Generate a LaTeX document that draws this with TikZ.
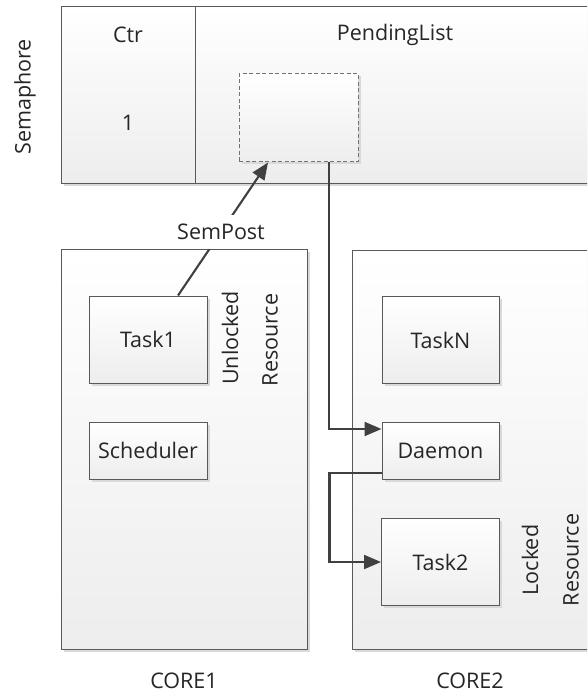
\documentclass[tikz,border=0pt]{standalone}
\usepackage{fontspec}
\setmainfont{Open Sans}
\usetikzlibrary{positioning,calc,shadows,arrows.meta}

\tikzset{
  every node/.style={text=black!85, font=\fontsize{21.5}{25}\selectfont},
  corebox/.style={draw=black!65, line width=1pt, inner sep=0pt,
    top color=white, bottom color=black!7,
    drop shadow={shadow xshift=2.5pt, shadow yshift=-2.5pt, fill=black!15, opacity=1}},
  taskbox/.style={corebox, minimum width=118pt, minimum height=87pt},
  listbox/.style={corebox, draw=black!55, dash pattern=on 4pt off 2.5pt},
  link/.style={draw=black!75, line width=2.1pt, -{Triangle[length=17pt,width=14pt]}},
}

\begin{document}
\begin{tikzpicture}[x=1pt,y=-1pt]
\clip (0,0) rectangle (587,700);

\node[corebox, minimum width=579pt, minimum height=177pt] (sem) at (350.5,95.5) {};
\coordinate (div) at (195,0);
\draw[draw=black!65, line width=1pt] (sem.north -| div) -- (sem.south -| div);

\node[rotate=90] (semlbl) at (25,97) {Semaphore};
\node (ctr) at (128,35) {Ctr};
\node (cnt) at (128,123) {1};
\node (pending) at (395,35) {PendingList};
\node[listbox, minimum width=119pt, minimum height=88pt] (plist) at (298.5,118) {};

\node[corebox, minimum width=246pt, minimum height=399pt] (core1) at (184,449.5) {};
\node[corebox, minimum width=288pt, minimum height=398pt] (core2) at (496,450) {};

\node[taskbox] (task1) at (148,339.5) {Task1};
\node[taskbox, minimum height=57pt, below=38pt of task1] (sched) {Scheduler};
\node[rotate=90] (unlk) at (230,338) {Unlocked};
\node[rotate=90] (res1) at (270,340) {Resource};

\node[taskbox, minimum width=117pt] (taskN) at (440.5,340) {TaskN};
\node[taskbox, minimum width=117pt, minimum height=57pt, below=38pt of taskN] (daemon) {Daemon};
\node[taskbox, below=38pt of daemon] (task2) {Task2};
\node[rotate=90] (lk) at (530,560) {Locked};
\node[rotate=90] (res2) at (571,560) {Resource};

\node (c1lbl) at (184,681) {CORE1};
\node (c2lbl) at (470,681) {CORE2};

\coordinate (t1) at ($(task1.north)+(30,0)$);
\coordinate (pl) at ($(plist.south)+(-30.5,0)$);
\draw[link] (t1) -- node[pos=0.478, fill=white, inner ysep=9pt] (sempost) {SemPost} (pl);

\draw[link] ($(plist.south)+(30.5,0)$) |- ($(daemon.north west)+(0,7)$);
\draw[link] ($(daemon.south west)+(0,-7)$) -- ++(-52,0) |- (task2.west);
\end{tikzpicture}
\end{document}
